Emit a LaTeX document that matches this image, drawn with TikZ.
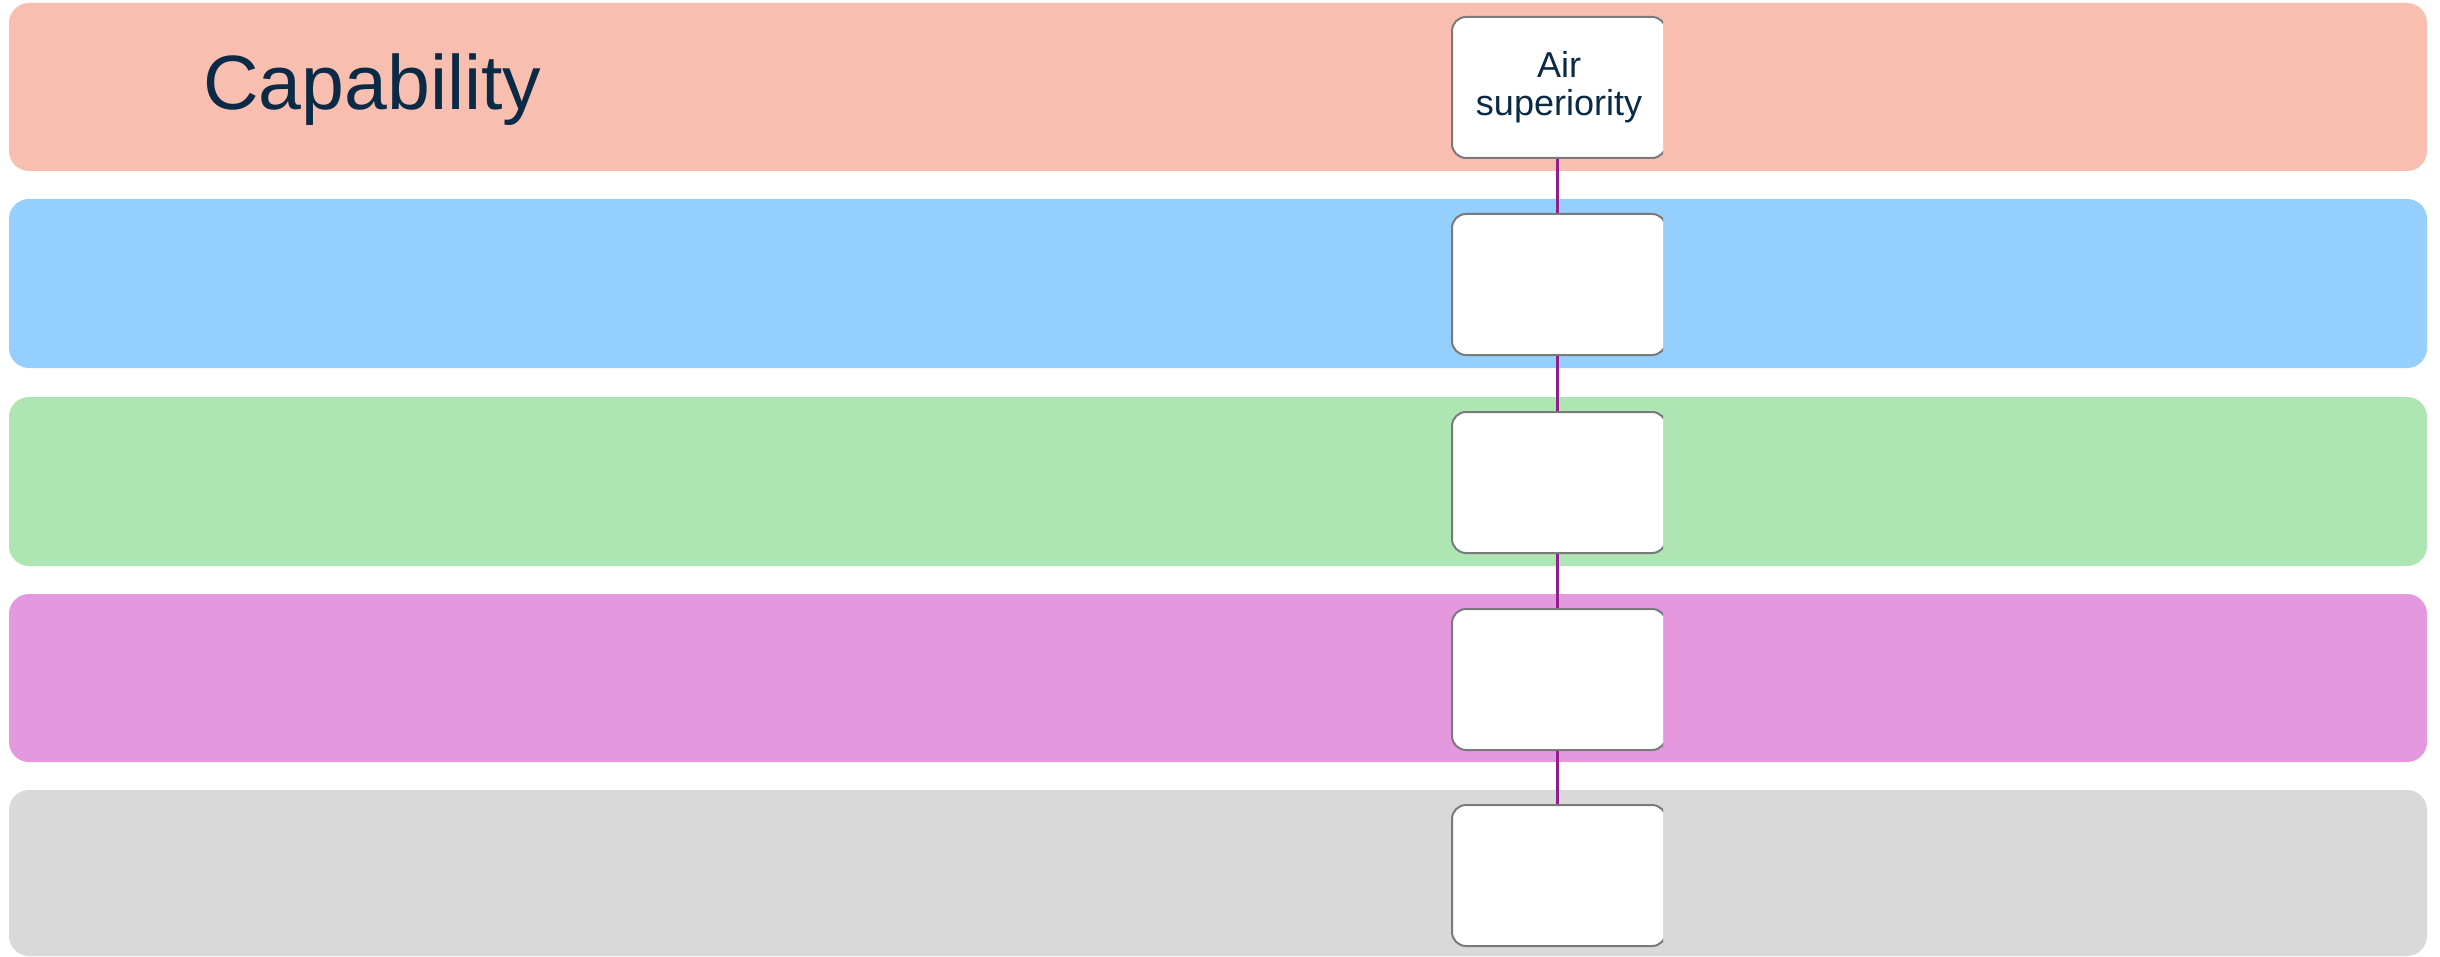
\documentclass[tikz,border=0pt]{standalone}
\usepackage{fontspec}
\setmainfont{Liberation Sans}
\definecolor{bandA}{HTML}{F8BEAF}
\definecolor{bandB}{HTML}{94CFFD}
\definecolor{bandC}{HTML}{ADE5B3}
\definecolor{bandD}{HTML}{E498DE}
\definecolor{bandE}{HTML}{D9D9D9}
\definecolor{inktext}{HTML}{0B2A45}
\definecolor{linkline}{HTML}{8E1F8C}
\definecolor{boxedge}{HTML}{7A7A7A}
\begin{document}
\begin{tikzpicture}[x=1pt,y=-1pt,
  band/.style={rounded corners=20pt},
  levelbox/.style={draw=boxedge, line width=2pt, fill=white, rounded corners=14pt,
    minimum width=214pt, minimum height=141pt, inner sep=0pt, anchor=north west,
    text=inktext, font=\fontsize{36}{38}\selectfont, align=center},
  link/.style={draw=linkline, line width=3pt}
]
\useasboundingbox (0,0) rectangle (2440,957);
% horizontal bands
\fill[bandA, band] (9,3) rectangle (2427,171);
\fill[bandB, band] (9,199) rectangle (2427,368);
\fill[bandC, band] (9,397) rectangle (2427,566);
\fill[bandD, band] (9,594) rectangle (2427,762);
\fill[bandE, band] (9,790) rectangle (2427,956);
\node[anchor=base west, inner sep=0pt, text=inktext, font=\fontsize{77}{80}\selectfont]
  (title) at (203,110) {Capability};
% level boxes (right edge trimmed)
\begin{scope}
\clip (0,0) rectangle (1663,957);
\node[levelbox] (b1) at (1451,16) {Air\\superiority};
\node[levelbox] (b2) at (1451,213) {};
\node[levelbox] (b3) at (1451,411) {};
\node[levelbox] (b4) at (1451,608) {};
\node[levelbox] (b5) at (1451,804) {};
\end{scope}
% vertical links between the boxes
\draw[link] ([xshift=-2pt]b1.south) -- ([xshift=-2pt]b2.north);
\draw[link] ([xshift=-2pt]b2.south) -- ([xshift=-2pt]b3.north);
\draw[link] ([xshift=-2pt]b3.south) -- ([xshift=-2pt]b4.north);
\draw[link] ([xshift=-2pt]b4.south) -- ([xshift=-2pt]b5.north);
\end{tikzpicture}
\end{document}
